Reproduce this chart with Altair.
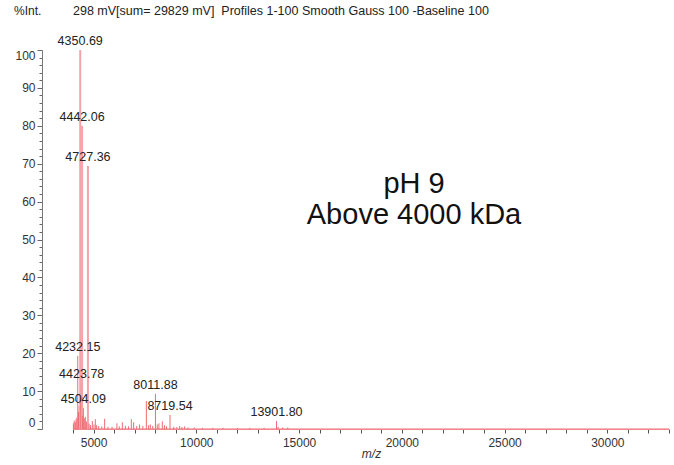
import altair as alt
import pandas as pd

# Stick spectrum: peak centroids (m/z) and relative intensities (%)
peak_mz = [
    4020, 4060, 4110, 4150, 4190, 4232.15, 4270, 4300, 4350.69, 4380,
    4423.78, 4442.06, 4470, 4504.09, 4550, 4600, 4650, 4690, 4727.36, 4780,
    4850, 4940, 5020, 5086, 5150, 5250, 5400, 5540, 5700, 5900,
    6137, 6250, 6400, 6550, 6700, 6838, 6950, 7100, 7240, 7400,
    7568, 7680, 7762, 7880, 8011.88, 8100, 8180, 8345, 8450, 8550,
    8719.54, 8900, 9050, 9190, 9300, 9433, 9600, 9900, 10300, 10800,
    11300, 12000, 12600, 13300, 13901.80, 13980, 14200, 14450,
]
peak_int = [
    1.5, 2.2, 1.8, 2.6, 3.0, 19.3, 4.5, 6.0, 100.0, 8.5,
    12.1, 80.0, 3.5, 5.5, 2.8, 3.2, 2.0, 1.6, 69.4, 1.4,
    1.0, 2.1, 1.2, 2.6, 1.0, 0.8, 0.7, 2.7, 0.6, 0.6,
    1.5, 0.7, 1.8, 0.8, 0.7, 2.6, 1.8, 0.8, 1.2, 0.8,
    7.4, 1.0, 1.2, 0.8, 9.3, 1.2, 1.5, 2.0, 1.0, 0.7,
    3.7, 0.6, 0.5, 0.8, 0.5, 0.7, 0.4, 0.4, 0.3, 0.3,
    0.3, 0.3, 0.3, 0.3, 2.1, 0.6, 0.4, 0.4,
]

# Annotated peaks
label_mz = [4232.15, 4350.69, 4423.78, 4442.06, 4504.09, 4727.36, 8011.88, 8719.54, 13901.80]
label_int = [19.3, 100.0, 12.1, 80.0, 5.5, 69.4, 9.3, 3.7, 2.1]

# Baseline trace across the acquisition range
base_mz = [4000, 33000]
base_int = [0, 0]

# Axis ticks
x_ticks = list(range(4000, 33001, 1000))
y_ticks = list(range(0, 101, 2))

header = "298 mV[sum= 29829 mV]\u00a0 Profiles 1-100 Smooth Gauss 100 -Baseline 100"
note_lines = ["pH 9", "Above 4000 kDa"]

FONT = "Liberation Sans"
PEAK_RED = "#ef6b72"
PEAK_PINK = "#f5a3a9"

peaks = pd.DataFrame({"mz": peak_mz, "intensity": peak_int})
labels = pd.DataFrame({"mz": label_mz, "intensity": label_int,
                       "text": [f"{v:.2f}" for v in label_mz]})
base = pd.DataFrame({"mz": base_mz, "intensity": base_int})

x_scale = alt.Scale(domain=[4000, 33000], nice=False, zero=False)
y_scale = alt.Scale(domain=[0, 100], nice=False)

x_axis = alt.Axis(
    values=x_ticks,
    labelExpr="datum.value % 5000 === 0 ? format(datum.value, 'd') : ''",
    labelOverlap=False,
    title="m/z",
    titleFontStyle="italic",
    titleFontWeight="normal",
    titleFontSize=12,
    titleColor="#333333",
    titlePadding=0,
    titleFont=FONT,
    labelFont=FONT,
    labelFontSize=12,
    labelColor="#333333",
    labelPadding=4,
    tickSize=4,
    tickColor="#555555",
    domainColor=PEAK_PINK,
    grid=False,
)
y_axis = alt.Axis(
    values=y_ticks,
    labelExpr="datum.value % 10 === 0 ? datum.label : ''",
    labelOverlap=False,
    labelFlush=6,
    title=None,
    offset=31,
    labelFont=FONT,
    labelFontSize=12,
    labelColor="#333333",
    labelPadding=2,
    tickSize=alt.condition("datum.value % 10 === 0", alt.value(5), alt.value(3)),
    tickColor="#666666",
    domainColor="#777777",
    grid=False,
)

X = alt.X("mz:Q", scale=x_scale, axis=x_axis)
Y = alt.Y("intensity:Q", scale=y_scale, axis=y_axis)

baseline = alt.Chart(base).mark_line(color=PEAK_RED, strokeWidth=1).encode(x=X, y=Y)

sticks = alt.Chart(peaks).mark_rule().encode(
    x=X,
    y=Y,
    y2=alt.datum(0),
    color=alt.condition("datum.intensity > 50", alt.value(PEAK_PINK), alt.value(PEAK_RED)),
    strokeWidth=alt.condition("datum.intensity > 50", alt.value(2), alt.value(1)),
)

peak_text = alt.Chart(labels).mark_text(
    font=FONT, fontSize=12.5, color="#222222", baseline="bottom", align="center", dy=-2
).encode(x=X, y=Y, text="text:N")

unit_text = alt.Chart(pd.DataFrame({"t": ["%Int."]})).mark_text(
    font=FONT, fontSize=12, color="#222222", align="left", baseline="middle"
).encode(x=alt.value(-59), y=alt.value(-39), text="t:N")

header_text = alt.Chart(pd.DataFrame({"t": [header]})).mark_text(
    font=FONT, fontSize=12.5, color="#222222", align="left", baseline="middle"
).encode(x=alt.value(0), y=alt.value(-39), text="t:N")

note = alt.Chart(pd.DataFrame({"k": [0]})).mark_text(
    font=FONT, fontSize=29, color="#111111", align="center",
    baseline="alphabetic", lineHeight=31, text=note_lines
).encode(x=alt.value(341), y=alt.value(143))

chart = alt.layer(baseline, sticks, peak_text, unit_text, header_text, note).properties(
    width=596,
    height=379,
    autosize=alt.AutoSizeParams(type="none"),
    padding={"left": 73, "top": 50, "right": 5, "bottom": 36},
    background="white",
).configure_view(stroke=None)

chart.save("out.html", embed_options={"renderer": "svg", "actions": False})
